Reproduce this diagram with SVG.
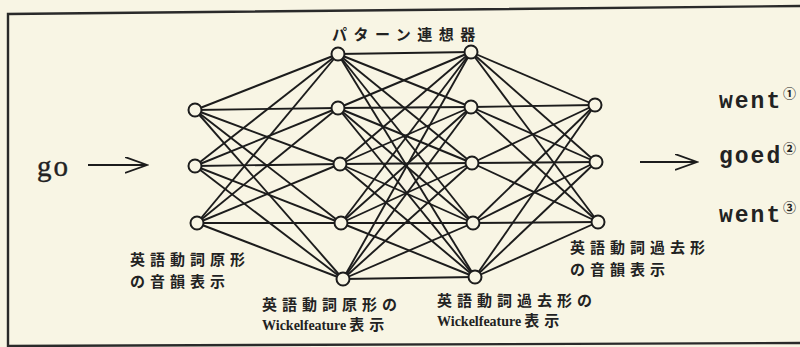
<svg xmlns="http://www.w3.org/2000/svg" width="800" height="347" viewBox="0 0 800 347">
<style>
.bg{fill:#f8f5e4}
.frame{fill:none;stroke:#2a2a2a;stroke-width:2.4}
.c line{stroke:#1c1c1c;stroke-width:1.9}
.node{fill:#f8f5e4;stroke:#1c1c1c;stroke-width:2}
.arrow{fill:none;stroke:#1c1c1c;stroke-width:1.8}
.jp{font-family:"Noto Sans CJK JP","Noto Sans CJK SC",sans-serif;font-weight:bold;font-size:15px;fill:#222;letter-spacing:5px}
.wk{font-family:"Liberation Serif",serif;font-size:14px;fill:#222;font-weight:bold}
.mono{font-family:"Liberation Mono",monospace;font-size:23px;fill:#222;font-weight:bold;letter-spacing:2px}
.sup{font-family:"Noto Sans CJK JP",sans-serif;font-size:13px;fill:#222;font-weight:bold}
.go{font-family:"Liberation Serif",serif;font-size:29px;fill:#222;letter-spacing:2px;stroke:#222;stroke-width:0.4}
</style>
<defs>
<marker id="ah" markerUnits="userSpaceOnUse" markerWidth="24" markerHeight="18" refX="22" refY="8" orient="auto">
<path d="M0,0 L22,8 L0,16" fill="none" stroke="#1c1c1c" stroke-width="1.8"/>
</marker>
</defs>
<rect class="bg" x="0" y="0" width="800" height="347"/>
<path class="frame" d="M800,6 L8,14 L8,347 M8,346 L800,343"/>
<g class="c" id="connectors">
<line x1="195" y1="110" x2="338" y2="54"/>
<line x1="195" y1="110" x2="338" y2="108"/>
<line x1="195" y1="110" x2="340" y2="164"/>
<line x1="195" y1="110" x2="341" y2="223"/>
<line x1="195" y1="110" x2="343" y2="279"/>
<line x1="195" y1="166" x2="338" y2="54"/>
<line x1="195" y1="166" x2="338" y2="108"/>
<line x1="195" y1="166" x2="340" y2="164"/>
<line x1="195" y1="166" x2="341" y2="223"/>
<line x1="195" y1="166" x2="343" y2="279"/>
<line x1="197" y1="223" x2="338" y2="54"/>
<line x1="197" y1="223" x2="338" y2="108"/>
<line x1="197" y1="223" x2="340" y2="164"/>
<line x1="197" y1="223" x2="341" y2="223"/>
<line x1="197" y1="223" x2="343" y2="279"/>
<line x1="338" y1="54" x2="471" y2="52"/>
<line x1="338" y1="54" x2="471" y2="107"/>
<line x1="338" y1="54" x2="472" y2="163"/>
<line x1="338" y1="54" x2="473" y2="223"/>
<line x1="338" y1="54" x2="475" y2="277"/>
<line x1="338" y1="108" x2="471" y2="52"/>
<line x1="338" y1="108" x2="471" y2="107"/>
<line x1="338" y1="108" x2="472" y2="163"/>
<line x1="338" y1="108" x2="473" y2="223"/>
<line x1="338" y1="108" x2="475" y2="277"/>
<line x1="340" y1="164" x2="471" y2="52"/>
<line x1="340" y1="164" x2="471" y2="107"/>
<line x1="340" y1="164" x2="472" y2="163"/>
<line x1="340" y1="164" x2="473" y2="223"/>
<line x1="340" y1="164" x2="475" y2="277"/>
<line x1="341" y1="223" x2="471" y2="52"/>
<line x1="341" y1="223" x2="471" y2="107"/>
<line x1="341" y1="223" x2="472" y2="163"/>
<line x1="341" y1="223" x2="473" y2="223"/>
<line x1="341" y1="223" x2="475" y2="277"/>
<line x1="343" y1="279" x2="471" y2="52"/>
<line x1="343" y1="279" x2="471" y2="107"/>
<line x1="343" y1="279" x2="472" y2="163"/>
<line x1="343" y1="279" x2="473" y2="223"/>
<line x1="343" y1="279" x2="475" y2="277"/>
<line x1="471" y1="52" x2="595" y2="105"/>
<line x1="471" y1="52" x2="596" y2="162"/>
<line x1="471" y1="52" x2="598" y2="222"/>
<line x1="471" y1="107" x2="595" y2="105"/>
<line x1="471" y1="107" x2="596" y2="162"/>
<line x1="471" y1="107" x2="598" y2="222"/>
<line x1="472" y1="163" x2="595" y2="105"/>
<line x1="472" y1="163" x2="596" y2="162"/>
<line x1="472" y1="163" x2="598" y2="222"/>
<line x1="473" y1="223" x2="595" y2="105"/>
<line x1="473" y1="223" x2="596" y2="162"/>
<line x1="473" y1="223" x2="598" y2="222"/>
<line x1="475" y1="277" x2="595" y2="105"/>
<line x1="475" y1="277" x2="596" y2="162"/>
<line x1="475" y1="277" x2="598" y2="222"/>
<line class="arrow" x1="88" y1="165" x2="147" y2="165" marker-end="url(#ah)"/>
<line class="arrow" x1="640" y1="162" x2="697" y2="162" marker-end="url(#ah)"/>
</g>
<g id="input-layer">
<circle class="node" cx="195" cy="110" r="6.5"/>
<circle class="node" cx="195" cy="166" r="6.5"/>
<circle class="node" cx="197" cy="223" r="6.5"/>
</g>
<g id="wickel-in-layer">
<circle class="node" cx="338" cy="54" r="6.5"/>
<circle class="node" cx="338" cy="108" r="6.5"/>
<circle class="node" cx="340" cy="164" r="6.5"/>
<circle class="node" cx="341" cy="223" r="6.5"/>
<circle class="node" cx="343" cy="279" r="6.5"/>
</g>
<g id="wickel-out-layer">
<circle class="node" cx="471" cy="52" r="6.5"/>
<circle class="node" cx="471" cy="107" r="6.5"/>
<circle class="node" cx="472" cy="163" r="6.5"/>
<circle class="node" cx="473" cy="223" r="6.5"/>
<circle class="node" cx="475" cy="277" r="6.5"/>
</g>
<g id="output-layer">
<circle class="node" cx="595" cy="105" r="6.5"/>
<circle class="node" cx="596" cy="162" r="6.5"/>
<circle class="node" cx="598" cy="222" r="6.5"/>
</g>
<g id="title">
<text class="jp" x="332" y="40" style="letter-spacing:6.5px">パターン連想器</text>
</g>
<g id="input-word">
<text class="go" x="37" y="176">go</text>
</g>
<g id="outputs">
<text class="mono" x="719" y="108">went</text>
<text class="sup" x="783" y="98">①</text>
<text class="mono" x="719" y="163">goed</text>
<text class="sup" x="783" y="153">②</text>
<text class="mono" x="719" y="222">went</text>
<text class="sup" x="783" y="212">③</text>
</g>
<g id="label-input">
<text class="jp" x="130" y="265">英語動詞原形</text>
<text class="jp" x="130" y="287">の音韻表示</text>
</g>
<g id="label-wickel-in">
<text class="jp" x="262" y="310">英語動詞原形の</text>
<text x="262" y="330"><tspan class="wk">Wickelfeature</tspan><tspan class="jp" dx="3">表示</tspan></text>
</g>
<g id="label-wickel-out">
<text class="jp" x="437" y="306">英語動詞過去形の</text>
<text x="437" y="326"><tspan class="wk">Wickelfeature</tspan><tspan class="jp" dx="3">表示</tspan></text>
</g>
<g id="label-output">
<text class="jp" x="570" y="253">英語動詞過去形</text>
<text class="jp" x="570" y="275">の音韻表示</text>
</g>
</svg>
